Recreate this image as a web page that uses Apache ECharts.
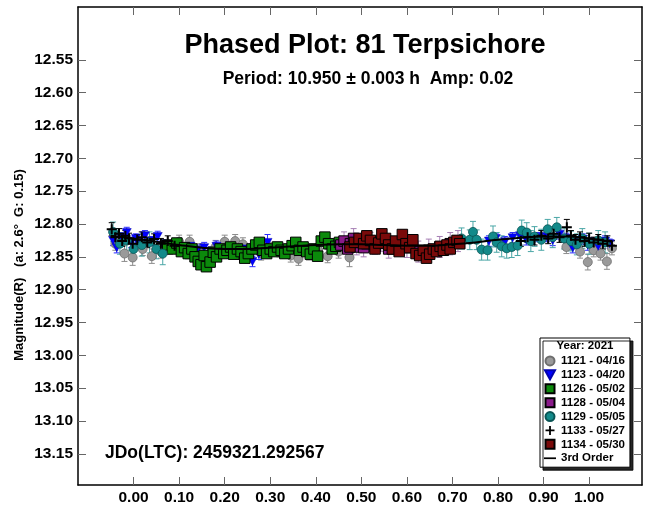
<!DOCTYPE html>
<html><head><meta charset="utf-8">
<script src="https://cdn.jsdelivr.net/npm/echarts@6/dist/echarts.min.js"></script>
<style>html,body{margin:0;padding:0;background:#fff}#c{width:645px;height:506px}</style>
</head><body><div id="c"></div>
<script>
// tick labels
const xTicks = [0.0,0.1,0.2,0.3,0.4,0.5,0.6,0.7,0.8,0.9,1.0];
const yTicks = [12.55,12.60,12.65,12.70,12.75,12.80,12.85,12.90,12.95,13.00,13.05,13.10,13.15];
const seriesNames = ['1121 - 04/16','1123 - 04/20','1126 - 05/02','1128 - 05/04','1129 - 05/05','1133 - 05/27','1134 - 05/30','3rd Order'];
// [phase, magnitude, error]
const s1121 = [[-0.04,12.83,0.01],[-0.02,12.845,0.012],[-0.002,12.851,0.012],[0.02,12.838,0.01],[0.04,12.849,0.011],[0.06,12.842,0.01],[0.08,12.836,0.01],[0.10,12.827,0.01],[0.123,12.827,0.01],[0.145,12.84,0.01],[0.165,12.846,0.01],[0.18,12.835,0.01],[0.2,12.827,0.01],[0.223,12.826,0.01],[0.24,12.831,0.01],[0.26,12.84,0.01],[0.28,12.845,0.01],[0.3,12.838,0.01],[0.32,12.84,0.01],[0.345,12.848,0.01],[0.362,12.853,0.01],[0.385,12.845,0.01],[0.405,12.84,0.01],[0.426,12.849,0.01],[0.45,12.842,0.01],[0.474,12.851,0.014],[0.95,12.835,0.01],[0.965,12.828,0.01],[0.98,12.842,0.01],[0.997,12.858,0.012],[1.01,12.84,0.01],[1.025,12.845,0.01],[1.039,12.857,0.012],[1.05,12.837,0.01]];
const s1123 = [[-0.045,12.825,0.008],[-0.037,12.836,0.008],[-0.028,12.82,0.007],[-0.015,12.813,0.008],[-0.005,12.828,0.008],[0.005,12.822,0.007],[0.015,12.83,0.008],[0.025,12.818,0.008],[0.04,12.826,0.007],[0.053,12.819,0.008],[0.065,12.832,0.008],[0.08,12.836,0.007],[0.095,12.83,0.008],[0.11,12.838,0.008],[0.125,12.834,0.007],[0.14,12.84,0.008],[0.155,12.836,0.008],[0.17,12.842,0.007],[0.182,12.834,0.008],[0.195,12.84,0.008],[0.21,12.845,0.007],[0.226,12.843,0.008],[0.24,12.838,0.008],[0.25,12.85,0.009],[0.261,12.857,0.008],[0.275,12.846,0.008],[0.294,12.828,0.012],[0.78,12.826,0.008],[0.795,12.822,0.007],[0.815,12.827,0.008],[0.832,12.821,0.008],[0.848,12.818,0.007],[0.862,12.824,0.008],[0.876,12.823,0.008],[0.89,12.82,0.007],[0.907,12.819,0.008],[0.92,12.825,0.008],[0.935,12.816,0.007],[0.95,12.822,0.008],[0.964,12.836,0.008],[0.975,12.828,0.007],[0.986,12.823,0.008],[0.997,12.832,0.008],[1.008,12.828,0.007],[1.02,12.834,0.008],[1.035,12.826,0.008],[1.045,12.83,0.007]];
const s1126 = [[0.075,12.832,0.007],[0.085,12.838,0.006],[0.095,12.829,0.007],[0.105,12.842,0.006],[0.112,12.836,0.007],[0.12,12.845,0.008],[0.128,12.838,0.006],[0.135,12.85,0.007],[0.142,12.857,0.006],[0.148,12.862,0.007],[0.155,12.848,0.006],[0.16,12.865,0.007],[0.168,12.858,0.006],[0.175,12.843,0.007],[0.182,12.85,0.006],[0.19,12.838,0.007],[0.198,12.845,0.006],[0.205,12.84,0.007],[0.213,12.835,0.006],[0.22,12.846,0.007],[0.228,12.838,0.006],[0.236,12.842,0.007],[0.244,12.852,0.006],[0.252,12.845,0.007],[0.26,12.838,0.006],[0.268,12.832,0.007],[0.276,12.828,0.006],[0.284,12.84,0.007],[0.292,12.845,0.006],[0.30,12.838,0.007],[0.308,12.842,0.006],[0.316,12.835,0.007],[0.324,12.84,0.006],[0.332,12.845,0.007],[0.34,12.838,0.006],[0.348,12.833,0.007],[0.356,12.828,0.006],[0.364,12.84,0.007],[0.372,12.835,0.006],[0.38,12.842,0.007],[0.388,12.846,0.006],[0.396,12.838,0.007],[0.404,12.849,0.006],[0.412,12.826,0.007],[0.42,12.82,0.006],[0.428,12.83,0.007],[0.436,12.838,0.006],[0.444,12.834,0.007],[0.452,12.828,0.006]];
const s1128 = [[0.455,12.832,0.012],[0.462,12.826,0.014],[0.47,12.838,0.012],[0.476,12.83,0.013],[0.483,12.822,0.015],[0.49,12.835,0.012],[0.497,12.828,0.013],[0.505,12.836,0.014],[0.512,12.83,0.012],[0.52,12.826,0.013],[0.53,12.834,0.012],[0.545,12.829,0.013],[0.56,12.838,0.014],[0.578,12.832,0.013],[0.6,12.836,0.015],[0.625,12.842,0.016],[0.648,12.84,0.017],[0.672,12.835,0.016],[0.695,12.83,0.017],[0.712,12.826,0.016]];
const s1129 = [[-0.045,12.812,0.015],[-0.03,12.83,0.016],[-0.015,12.825,0.015],[0.0,12.838,0.016],[0.018,12.832,0.017],[0.035,12.828,0.016],[0.05,12.838,0.015],[0.064,12.845,0.017],[0.72,12.822,0.016],[0.738,12.824,0.015],[0.745,12.812,0.016],[0.753,12.824,0.015],[0.764,12.839,0.016],[0.777,12.84,0.015],[0.789,12.819,0.016],[0.797,12.828,0.015],[0.808,12.834,0.016],[0.819,12.837,0.015],[0.83,12.835,0.016],[0.843,12.833,0.015],[0.852,12.81,0.016],[0.863,12.813,0.015],[0.872,12.826,0.016],[0.88,12.819,0.015],[0.895,12.824,0.016],[0.909,12.808,0.015],[0.92,12.82,0.016],[0.929,12.805,0.015],[0.945,12.822,0.016],[0.96,12.826,0.015],[0.973,12.831,0.016],[0.985,12.822,0.015],[1.0,12.83,0.016],[1.02,12.825,0.015],[1.035,12.828,0.016]];
const s1133 = [[-0.048,12.808,0.01],[-0.04,12.82,0.008],[-0.032,12.815,0.008],[-0.025,12.826,0.008],[-0.018,12.818,0.008],[-0.01,12.822,0.008],[-0.002,12.83,0.008],[0.008,12.824,0.008],[0.018,12.82,0.008],[0.03,12.828,0.008],[0.045,12.823,0.008],[0.06,12.83,0.008],[0.075,12.826,0.008],[0.09,12.833,0.008],[0.85,12.826,0.008],[0.865,12.82,0.008],[0.88,12.824,0.008],[0.895,12.818,0.008],[0.91,12.822,0.008],[0.922,12.815,0.008],[0.935,12.82,0.008],[0.951,12.805,0.012],[0.96,12.818,0.008],[0.97,12.824,0.008],[0.98,12.82,0.008],[0.99,12.826,0.008],[1.0,12.822,0.008],[1.01,12.828,0.008],[1.02,12.824,0.008],[1.03,12.83,0.008],[1.04,12.826,0.008],[1.05,12.833,0.008]];
const s1134 = [[0.475,12.835,0.007],[0.485,12.828,0.006],[0.495,12.822,0.007],[0.505,12.83,0.006],[0.512,12.818,0.007],[0.52,12.825,0.006],[0.53,12.838,0.007],[0.538,12.829,0.006],[0.545,12.815,0.007],[0.553,12.822,0.006],[0.56,12.832,0.007],[0.568,12.838,0.006],[0.575,12.826,0.007],[0.583,12.842,0.006],[0.59,12.816,0.007],[0.598,12.83,0.006],[0.606,12.836,0.007],[0.613,12.824,0.006],[0.62,12.845,0.007],[0.628,12.848,0.006],[0.636,12.84,0.007],[0.643,12.852,0.006],[0.65,12.846,0.007],[0.658,12.838,0.006],[0.665,12.842,0.007],[0.673,12.834,0.006],[0.68,12.84,0.007],[0.688,12.832,0.006],[0.695,12.838,0.007],[0.703,12.828,0.006],[0.71,12.825,0.007],[0.716,12.83,0.006]];
const fitPhase = [-0.05,0.0,0.05,0.1,0.15,0.2,0.25,0.3,0.35,0.4,0.45,0.5,0.55,0.6,0.65,0.7,0.75,0.8,0.85,0.9,0.95,1.0,1.05];
const fitMag = [12.818,12.822,12.827,12.832,12.836,12.838,12.838,12.836,12.834,12.832,12.831,12.831,12.832,12.833,12.833,12.831,12.828,12.824,12.821,12.819,12.819,12.822,12.827];

const FONT = "'Liberation Sans', Arial, sans-serif";
const chart = echarts.init(document.getElementById('c'), null, {renderer:'canvas'});

const styles = [
  {data:s1121, symbol:'circle', size:9, fill:'#9a9a9a', border:'#6e6e6e', bw:0.8, err:'#8c8c8c', icon:'circle'},
  {data:s1123, symbol:'path://M0,0L10,0L5,9Z', size:[9,8], fill:'#0000ff', border:'#0000b0', bw:0.5, err:'#2a2aff', icon:'path://M0,0L10,0L5,9Z'},
  {data:s1126, symbol:'rect', size:10.5, fill:'#0b8a0b', border:'#000', bw:1, err:'#6b946b', icon:'path://M0,0h10v10h-10z'},
  {data:s1128, symbol:'rect', size:10.5, fill:'#8a1a8a', border:'#000', bw:1, err:'#a67fb4', icon:'path://M0,0h10v10h-10z'},
  {data:s1129, symbol:'circle', size:9, fill:'#138a8a', border:'#0a5555', bw:0.8, err:'#4aa6a6', icon:'circle'},
  {data:s1133, symbol:'path://M4,0h2v4h4v2h-4v4h-2v-4h-4v-2h4z', size:10, fill:'#000', border:'#000', bw:0, err:'#000', icon:'path://M4,0h2v4h4v2h-4v4h-2v-4h-4v-2h4z'},
  {data:s1134, symbol:'rect', size:10.5, fill:'#7a0a0a', border:'#000', bw:1, err:'#b04a4a', icon:'path://M0,0h10v10h-10z'}
];

const series = [];
styles.forEach((st, i) => {
  series.push({
    name: 'err' + i, type:'custom', xAxisIndex:0, yAxisIndex:0, clip:true,
    data: st.data, encode:{x:0, y:1}, silent:true, z:2,
    renderItem: function(params, api){
      const x = api.value(0), y = api.value(1), e = api.value(2);
      const a = api.coord([x, y - e]), b = api.coord([x, y + e]);
      const w = 3;
      const ls = {stroke: st.err, lineWidth: 1};
      return {type:'group', children:[
        {type:'line', shape:{x1:a[0], y1:a[1], x2:b[0], y2:b[1]}, style:ls},
        {type:'line', shape:{x1:a[0]-w, y1:a[1], x2:a[0]+w, y2:a[1]}, style:ls},
        {type:'line', shape:{x1:b[0]-w, y1:b[1], x2:b[0]+w, y2:b[1]}, style:ls}
      ]};
    }
  });
  series.push({
    name: seriesNames[i], type:'scatter', xAxisIndex:0, yAxisIndex:0,
    data: st.data.map(d => [d[0], d[1]]),
    symbol: st.symbol, symbolSize: st.size, z:3,
    itemStyle:{color: st.fill, borderColor: st.border, borderWidth: st.bw, opacity:1},
    emphasis:{disabled:true}
  });
});
series.push({
  name:'3rd Order', type:'line', xAxisIndex:0, yAxisIndex:0, z:4,
  data: fitPhase.map((p, k) => [p, fitMag[k]]),
  showSymbol:false, symbol:'none', smooth:true,
  lineStyle:{color:'#000', width:2}, itemStyle:{color:'#000'}
});

const axisLine = {show:true, onZero:false, lineStyle:{color:'#000', width:1.5}};
const tickStyle = {show:true, inside:true, length:8, lineStyle:{color:'#666', width:1}};

chart.setOption({
  animation:false,
  backgroundColor:'#fff',
  grid:{left:78, right:3, top:7, bottom:20, containLabel:false},
  xAxis:[
    {type:'value', position:'bottom', min:-0.122, max:1.116, axisLine:axisLine,
     axisTick:Object.assign({}, tickStyle, {customValues:xTicks}),
     axisLabel:{customValues:xTicks, formatter:v=>v.toFixed(2), fontFamily:FONT, fontWeight:'bold', fontSize:15.5, color:'#000', margin:5},
     splitLine:{show:false}},
    {type:'value', position:'top', min:-0.122, max:1.116, axisLine:axisLine,
     axisTick:Object.assign({}, tickStyle, {customValues:xTicks}),
     axisLabel:{show:false}, splitLine:{show:false}}
  ],
  yAxis:[
    {type:'value', position:'left', inverse:true, min:12.4695, max:13.1975, axisLine:axisLine,
     axisTick:Object.assign({}, tickStyle, {customValues:yTicks}),
     axisLabel:{customValues:yTicks, formatter:v=>v.toFixed(2), fontFamily:FONT, fontWeight:'bold', fontSize:15.5, color:'#000', margin:5},
     splitLine:{show:false}},
    {type:'value', position:'right', inverse:true, min:12.4695, max:13.1975, axisLine:axisLine,
     axisTick:Object.assign({}, tickStyle, {customValues:yTicks}),
     axisLabel:{show:false}, splitLine:{show:false}}
  ],
  legend:{
    show:true, orient:'vertical', left:540, top:338,
    data: seriesNames.map((n, i) => ({name:n, icon: i < 7 ? styles[i].icon : 'path://M0,0h14v2h-14z'})),
    itemWidth:12, itemHeight:9, itemGap:0, selectedMode:false,
    padding:[16,5,2,4],
    backgroundColor:'#fff', borderColor:'#000', borderWidth:1,
    shadowColor:'rgba(0,0,0,0.85)', shadowOffsetX:3, shadowOffsetY:3, shadowBlur:0,
    textStyle:{fontFamily:FONT, fontWeight:'bold', fontSize:11.5, color:'#000', lineHeight:13.9},
    z:10
  },
  graphic:[
    {type:'text', z:20, style:{text:'Phased Plot: 81 Terpsichore', x:365, y:46, textAlign:'center', textVerticalAlign:'middle', font:"bold 27px 'Liberation Sans', Arial, sans-serif", fill:'#000'}},
    {type:'text', z:20, style:{text:'Period: 10.950 ± 0.003 h  Amp: 0.02', x:368, y:79, textAlign:'center', textVerticalAlign:'middle', font:"bold 17.5px 'Liberation Sans', Arial, sans-serif", fill:'#000'}},
    {type:'text', z:20, style:{text:'JDo(LTC): 2459321.292567', x:105, y:453, textAlign:'left', textVerticalAlign:'middle', font:"bold 17.5px 'Liberation Sans', Arial, sans-serif", fill:'#000'}},
    {type:'text', z:20, x:19, y:265, rotation:Math.PI/2, style:{text:'Magnitude(R)   (a: 2.6°  G: 0.15)', x:0, y:0, textAlign:'center', textVerticalAlign:'middle', font:"bold 13px 'Liberation Sans', Arial, sans-serif", fill:'#000'}},
    {type:'text', z:30, style:{text:'Year: 2021', x:585, y:345.5, textAlign:'center', textVerticalAlign:'middle', font:"bold 11.5px 'Liberation Sans', Arial, sans-serif", fill:'#000'}}
  ],
  series: series
});
</script>
</body></html>
